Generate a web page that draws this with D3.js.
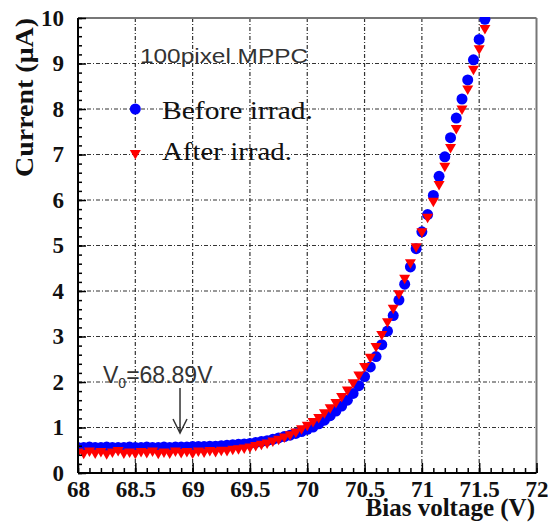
<!DOCTYPE html>
<html>
<head>
<meta charset="utf-8">
<script src="https://cdn.jsdelivr.net/npm/d3@7/dist/d3.min.js"></script>
<style>
  html, body { margin: 0; padding: 0; background: #fff; }
  svg { display: block; }
</style>
</head>
<body>
<svg id="chart" width="548" height="522"></svg>
<script>
// ---- data ----
const voltage = [68.00,68.05,68.10,68.15,68.20,68.25,68.30,68.35,68.40,68.45,68.50,68.55,68.60,68.65,68.70,68.75,68.80,68.85,68.90,68.95,
  69.00,69.05,69.10,69.15,69.20,69.25,69.30,69.35,69.40,69.45,69.50,69.55,69.60,69.65,69.70,69.75,69.80,69.85,69.90,69.95,
  70.00,70.05,70.10,70.15,70.20,70.25,70.30,70.35,70.40,70.45,70.50,70.55,70.60,70.65,70.70,70.75,70.80,70.85,70.90,70.95,
  71.00,71.05,71.10,71.15,71.20,71.25,71.30,71.35,71.40,71.45,71.50,71.55];
const beforeIrrad = [0.56,0.56,0.57,0.56,0.56,0.57,0.56,0.56,0.56,0.57,0.56,0.56,0.57,0.56,0.56,0.57,0.56,0.57,0.57,0.57,
  0.58,0.58,0.58,0.59,0.59,0.60,0.61,0.62,0.63,0.64,0.65,0.67,0.69,0.71,0.74,0.77,0.80,0.83,0.87,0.91,
  0.96,1.01,1.08,1.16,1.26,1.36,1.47,1.60,1.75,1.92,2.12,2.33,2.56,2.82,3.12,3.46,3.80,4.15,4.53,4.93,
  5.30,5.68,6.10,6.52,6.95,7.37,7.80,8.22,8.64,9.08,9.53,9.97];
const afterIrrad = [0.44,0.41,0.46,0.42,0.45,0.40,0.44,0.47,0.42,0.44,0.41,0.45,0.43,0.46,0.41,0.44,0.42,0.46,0.43,0.45,
  0.42,0.46,0.44,0.47,0.45,0.48,0.47,0.50,0.51,0.53,0.55,0.58,0.61,0.64,0.68,0.72,0.77,0.82,0.88,0.95,
  1.03,1.11,1.20,1.30,1.41,1.53,1.66,1.80,1.96,2.13,2.32,2.52,2.76,3.02,3.30,3.60,3.92,4.26,4.60,4.95,
  5.28,5.60,5.95,6.32,6.72,7.13,7.55,7.98,8.42,8.85,9.30,9.75];
const xTickValues = [68,68.5,69,69.5,70,70.5,71,71.5,72];
const xTickLabels = ["68","68.5","69","69.5","70","70.5","71","71.5","72"];
const yTickValues = [0,1,2,3,4,5,6,7,8,9,10];
const yTickLabels = ["0","1","2","3","4","5","6","7","8","9","10"];
const legendLabels = ["Before irrad.","After irrad."];

// ---- layout ----
const L = 78, R = 536.5, T = 18, B = 473;
const svg = d3.select("#chart");
const x = d3.scaleLinear().domain([68,72]).range([L,R]);
const y = d3.scaleLinear().domain([0,10]).range([B,T]);
const serif = "'Liberation Serif','Times New Roman',serif";
const sans = "'Liberation Sans',Arial,sans-serif";

// grid
const gridDash = "4,2,1,2";
const grid = svg.append("g");
grid.selectAll("line.gx").data(xTickValues.slice(1,-1)).join("line")
  .attr("x1", d=>x(d)).attr("x2", d=>x(d)).attr("y1", T).attr("y2", B)
  .attr("stroke","#333").attr("stroke-width",1.2).attr("stroke-dasharray",gridDash);
grid.selectAll("line.gy").data(yTickValues.slice(1,-1)).join("line")
  .attr("x1", L).attr("x2", R).attr("y1", d=>y(d)).attr("y2", d=>y(d))
  .attr("stroke","#333").attr("stroke-width",1.2).attr("stroke-dasharray",gridDash);

// frame top/right
svg.append("line").attr("x1",L).attr("x2",R).attr("y1",T).attr("y2",T).attr("stroke","#777").attr("stroke-width",2);
svg.append("line").attr("x1",R).attr("x2",R).attr("y1",T).attr("y2",B).attr("stroke","#777").attr("stroke-width",2);

// data marks
svg.append("clipPath").attr("id","plotclip").append("rect")
  .attr("x",L).attr("y",T-1).attr("width",R-L).attr("height",B-T+1);
const marks = svg.append("g").attr("clip-path","url(#plotclip)");
const circ = d3.symbol().type(d3.symbolCircle).size(Math.PI*5.5*5.5);
const tri = "M-5.5,-4.5 L5.5,-4.5 L0,5 Z";
marks.selectAll("path.b").data(voltage.map((v,i)=>[v,beforeIrrad[i]])).join("path")
  .attr("d", circ).attr("transform", d=>`translate(${x(d[0])},${y(d[1])})`).attr("fill","#0000ff");
marks.selectAll("path.r").data(voltage.map((v,i)=>[v,afterIrrad[i]])).join("path")
  .attr("d", tri).attr("transform", d=>`translate(${x(d[0])},${y(d[1])})`).attr("fill","#ff0000");

// axes
const yMinor = d3.range(0, 10.001, 0.2).map(v=>+v.toFixed(1));
const xMinor = d3.range(68, 72.001, 0.1).map(v=>+v.toFixed(1));
svg.append("g").attr("transform",`translate(${L},0)`)
  .call(d3.axisLeft(y).tickValues(yMinor).tickSize(-4).tickFormat(""))
  .call(g=>g.select(".domain").remove())
  .call(g=>g.selectAll("line").attr("stroke","#000").attr("stroke-width",1.5));
svg.append("g").attr("transform",`translate(0,${B})`)
  .call(d3.axisBottom(x).tickValues(xMinor).tickSize(-5).tickFormat(""))
  .call(g=>g.select(".domain").remove())
  .call(g=>g.selectAll("line").attr("stroke","#000").attr("stroke-width",1.5));

const yAxis = svg.append("g").attr("transform",`translate(${L},0)`)
  .call(d3.axisLeft(y).tickValues(yTickValues).tickSize(-8).tickPadding(14)
    .tickFormat((d,i)=>yTickLabels[i]));
yAxis.select(".domain").attr("stroke","#000").attr("stroke-width",2).attr("d",`M0,${T}V${B}`);
yAxis.selectAll("line").attr("stroke","#000").attr("stroke-width",1.5);
yAxis.selectAll("text").attr("font-family",serif).attr("font-weight","bold")
  .attr("font-size",23).attr("fill","#111");

const xAxis = svg.append("g").attr("transform",`translate(0,${B})`)
  .call(d3.axisBottom(x).tickValues(xTickValues).tickSize(-10).tickPadding(8)
    .tickFormat((d,i)=>xTickLabels[i]));
xAxis.select(".domain").attr("stroke","#000").attr("stroke-width",2).attr("d",`M${L},0H${R}`);
xAxis.selectAll("line").attr("stroke","#000").attr("stroke-width",1.5);
xAxis.selectAll("text").attr("font-family",serif).attr("font-weight","bold")
  .attr("font-size",23).attr("fill","#111");

// axis titles
svg.append("text").attr("transform","translate(33,18) rotate(-90)")
  .attr("text-anchor","end").attr("font-family",serif).attr("font-weight","bold")
  .attr("font-size",26).attr("textLength",159).attr("lengthAdjust","spacingAndGlyphs")
  .attr("fill","#111").text("Current (μA)");
svg.append("text").attr("x",535).attr("y",516).attr("text-anchor","end")
  .attr("font-family",serif).attr("font-weight","bold").attr("font-size",25)
  .attr("fill","#111").text("Bias voltage (V)");

// subtitle
svg.append("text").attr("x",140).attr("y",63).attr("font-family",sans)
  .attr("font-size",21).attr("textLength",168).attr("lengthAdjust","spacingAndGlyphs")
  .attr("fill","#333").text("100pixel MPPC");

// legend
const lg = svg.append("g");
lg.append("path").attr("d",circ).attr("transform",`translate(${x(68.5)},${y(8)})`).attr("fill","#0000ff");
lg.append("path").attr("d",tri).attr("transform",`translate(${x(68.5)},${y(7)})`).attr("fill","#ff0000");
lg.selectAll("text").data(legendLabels).join("text")
  .attr("x",162).attr("y",(d,i)=>[119,160][i])
  .attr("font-family",serif).attr("font-size",26).attr("fill","#111")
  .attr("textLength",(d,i)=>[151,130][i]).attr("lengthAdjust","spacingAndGlyphs")
  .text(d=>d);

// annotation
const ann = svg.append("text").attr("x",103).attr("y",383).attr("font-family",sans)
  .attr("font-size",23).attr("fill","#333");
ann.append("tspan").text("V");
ann.append("tspan").attr("font-size",14).attr("dy",5).text("0");
ann.append("tspan").attr("dy",-5).text("=68.89V");
const ax = x(68.89);
svg.append("path").attr("d",`M${ax},388V433M${ax-7},419L${ax},433L${ax+7},419`)
  .attr("fill","none").attr("stroke","#333").attr("stroke-width",1.5);
</script>
</body>
</html>
